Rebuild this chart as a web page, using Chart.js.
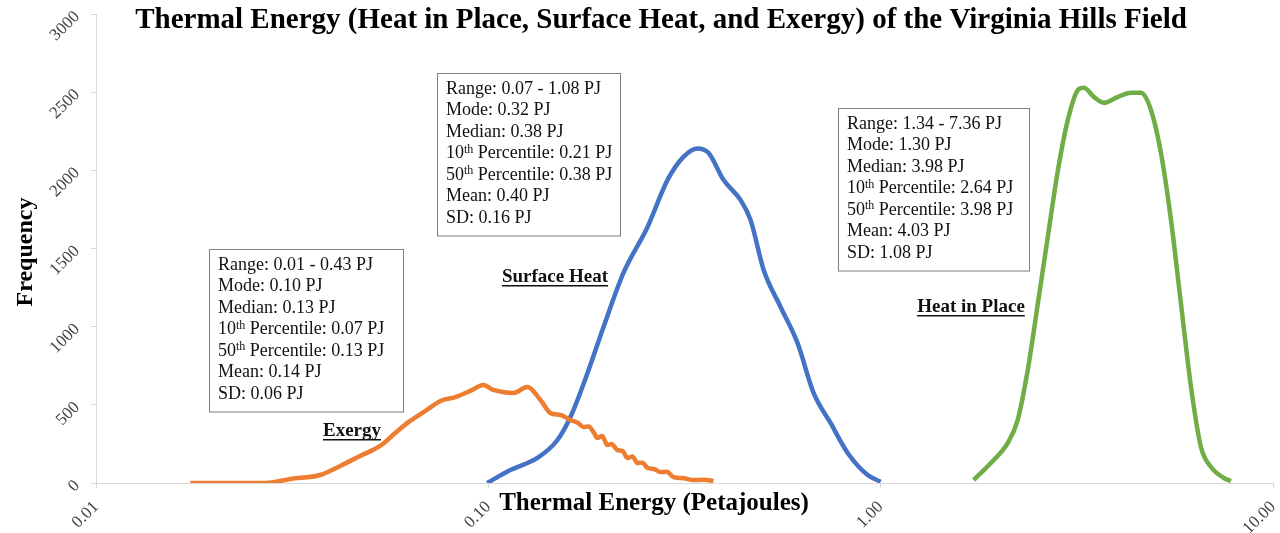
<!DOCTYPE html>
<html>
<head>
<meta charset="utf-8">
<script src="https://cdn.jsdelivr.net/npm/chart.js@4/dist/chart.umd.min.js"></script>
<style>
  body { margin: 0; background: #fff; }
  #wrap { width: 1280px; height: 533px; position: relative; }
</style>
</head>
<body>
<div id="wrap"><canvas id="myChart"></canvas></div>
<script>
// values (x in PJ, y = frequency)
const exergyX = [0.0174, 0.0270, 0.0313, 0.0373, 0.0419, 0.0471, 0.0530, 0.0579, 0.0632, 0.0691,
  0.0755, 0.0824, 0.0900, 0.0971, 0.1030, 0.1158, 0.1258, 0.1358, 0.1439, 0.1527, 0.1619, 0.1690,
  0.1748, 0.1800, 0.1860, 0.1897, 0.1950, 0.2012, 0.2060, 0.2133, 0.2200, 0.2263, 0.2330, 0.2399,
  0.2470, 0.2546, 0.2640, 0.2746, 0.2850, 0.2965, 0.3150, 0.3334, 0.3550, 0.3750];
const exergyY = [0, 0, 26, 51, 109, 173, 237, 320, 397, 461,
  525, 550, 589, 627, 595, 576, 614, 531, 448, 435, 403, 385,
  358, 362, 320, 288, 300, 243, 250, 211, 205, 160, 170, 128,
  130, 96, 90, 70, 72, 38, 30, 19, 20, 13];

const surfaceX = [0.0993, 0.1138, 0.1334, 0.1500, 0.1619, 0.1790, 0.1966, 0.2210, 0.2546, 0.2863,
  0.3143, 0.3413, 0.3640, 0.3974, 0.4392, 0.4659, 0.5032, 0.5558, 0.6138, 0.6745, 0.7452, 0.8240,
  0.9265, 1.0];
const surfaceY = [0, 83, 160, 275, 422, 704, 998, 1344, 1638, 1939,
  2086, 2140, 2112, 1939, 1811, 1683, 1363, 1126, 896, 576, 384, 192,
  51, 8];

const heatX = [1.726, 1.909, 2.109, 2.235, 2.371, 2.517, 2.667, 2.831, 3.000, 3.184, 3.296, 3.494,
  3.707, 4.026, 4.345, 4.604, 4.884, 5.180, 5.495, 5.824, 6.180, 6.551, 6.950, 7.499, 7.816];
const heatY = [19, 128, 256, 403, 723, 1152, 1574, 2003, 2323, 2515, 2528, 2470,
  2432, 2470, 2496, 2496, 2387, 2112, 1683, 1152, 614, 230, 102, 32, 13];

const xTicks = [0.01, 0.1, 1, 10];

const exergyStats = ['Range: 0.01 - 0.43 PJ', 'Mode: 0.10 PJ', 'Median: 0.13 PJ',
  '10^th Percentile: 0.07 PJ', '50^th Percentile: 0.13 PJ', 'Mean: 0.14 PJ', 'SD: 0.06 PJ'];
const surfaceStats = ['Range: 0.07 - 1.08 PJ', 'Mode: 0.32 PJ', 'Median: 0.38 PJ',
  '10^th Percentile: 0.21 PJ', '50^th Percentile: 0.38 PJ', 'Mean: 0.40 PJ', 'SD: 0.16 PJ'];
const heatStats = ['Range: 1.34 - 7.36 PJ', 'Mode: 1.30 PJ', 'Median: 3.98 PJ',
  '10^th Percentile: 2.64 PJ', '50^th Percentile: 3.98 PJ', 'Mean: 4.03 PJ', 'SD: 1.08 PJ'];

const SERIF = '"Liberation Serif", "Times New Roman", serif';

function toPoints(xs, ys) {
    return xs.map((x, i) => ({ x: x, y: ys[i] }));
}

function drawStatBox(ctx, left, top, width, lines) {
    const lineH = 21.5;
    const height = lines.length * lineH + 12;
    ctx.save();
    ctx.fillStyle = '#fff';
    ctx.fillRect(left, top, width, height);
    ctx.strokeStyle = '#7f7f7f';
    ctx.lineWidth = 1;
    ctx.strokeRect(left + 0.5, top + 0.5, width, height);
    ctx.fillStyle = '#111';
    ctx.textBaseline = 'middle';
    ctx.textAlign = 'left';
    lines.forEach((line, i) => {
        const y = top + 16 + i * lineH;
        let x = left + 9;
        const parts = line.split('^th');
        ctx.font = '18px ' + SERIF;
        ctx.fillText(parts[0], x, y);
        if (parts.length > 1) {
            x += ctx.measureText(parts[0]).width;
            ctx.font = '12px ' + SERIF;
            ctx.fillText('th', x, y - 4);
            x += ctx.measureText('th').width;
            ctx.font = '18px ' + SERIF;
            ctx.fillText(parts[1], x, y);
        }
    });
    ctx.restore();
}

function drawUnderlined(ctx, text, cx, cy) {
    ctx.save();
    ctx.font = 'bold 19px ' + SERIF;
    ctx.fillStyle = '#111';
    ctx.textAlign = 'center';
    ctx.textBaseline = 'middle';
    ctx.fillText(text, cx, cy);
    const w = ctx.measureText(text).width;
    ctx.fillRect(cx - w / 2, cy + 8, w, 1.5);
    ctx.restore();
}

const decorations = {
    id: 'decorations',
    afterDraw(chart) {
        const ctx = chart.ctx;
        ctx.save();
        ctx.fillStyle = '#000';
        ctx.textAlign = 'center';
        ctx.textBaseline = 'middle';
        ctx.font = 'bold 29px ' + SERIF;
        ctx.fillText('Thermal Energy (Heat in Place, Surface Heat, and Exergy) of the Virginia Hills Field', 661, 21);
        ctx.font = 'bold 25px ' + SERIF;
        ctx.fillText('Thermal Energy (Petajoules)', 654, 504);
        ctx.font = 'bold 24px ' + SERIF;
        ctx.translate(26, 252);
        ctx.rotate(-Math.PI / 2);
        ctx.fillText('Frequency', 0, 0);
        ctx.restore();

        drawStatBox(ctx, 209, 249, 194, exergyStats);
        drawStatBox(ctx, 437, 73, 183, surfaceStats);
        drawStatBox(ctx, 838, 108, 191, heatStats);

        drawUnderlined(ctx, 'Exergy', 352, 431);
        drawUnderlined(ctx, 'Surface Heat', 555, 277);
        drawUnderlined(ctx, 'Heat in Place', 971, 307);
    }
};

const ctx = document.getElementById('myChart').getContext('2d');
const lineStyle = { borderWidth: 4.5, pointRadius: 0, fill: false, cubicInterpolationMode: 'monotone' };

const myChart = new Chart(ctx, {
    type: 'line',
    data: {
        datasets: [
            Object.assign({ label: 'Exergy', data: toPoints(exergyX, exergyY), borderColor: '#ED7D31' }, lineStyle),
            Object.assign({ label: 'Surface Heat', data: toPoints(surfaceX, surfaceY), borderColor: '#4472C4' }, lineStyle),
            Object.assign({ label: 'Heat in Place', data: toPoints(heatX, heatY), borderColor: '#70AD47' }, lineStyle)
        ]
    },
    options: {
        responsive: true,
        maintainAspectRatio: false,
        animation: false,
        layout: { padding: { top: 14, right: 7, left: 0, bottom: 0 } },
        plugins: { legend: { display: false }, tooltip: { enabled: false } },
        scales: {
            x: {
                type: 'logarithmic',
                min: 0.01,
                max: 10,
                afterBuildTicks(scale) {
                    scale.ticks = xTicks.map(v => ({ value: v }));
                },
                afterFit(scale) {
                    scale.height = 50;
                    scale.paddingLeft = 0;
                    scale.paddingRight = 0;
                },
                ticks: {
                    autoSkip: false,
                    minRotation: 45,
                    maxRotation: 45,
                    padding: 9,
                    color: '#404040',
                    font: { family: SERIF, size: 17 },
                    callback: v => Number(v).toFixed(2)
                },
                grid: { drawOnChartArea: false, tickLength: 5, color: '#d9d9d9' },
                border: { color: '#d9d9d9', width: 1 }
            },
            y: {
                min: 0,
                max: 3000,
                afterFit(scale) {
                    scale.width = 96;
                    scale.paddingTop = 0;
                    scale.paddingBottom = 0;
                },
                ticks: {
                    stepSize: 500,
                    minRotation: 45,
                    maxRotation: 45,
                    padding: 14,
                    color: '#404040',
                    font: { family: SERIF, size: 17 },
                    callback: v => String(v)
                },
                grid: { drawOnChartArea: false, tickLength: 5, color: '#d9d9d9' },
                border: { color: '#d9d9d9', width: 1 }
            }
        }
    },
    plugins: [decorations]
});
</script>
</body>
</html>
